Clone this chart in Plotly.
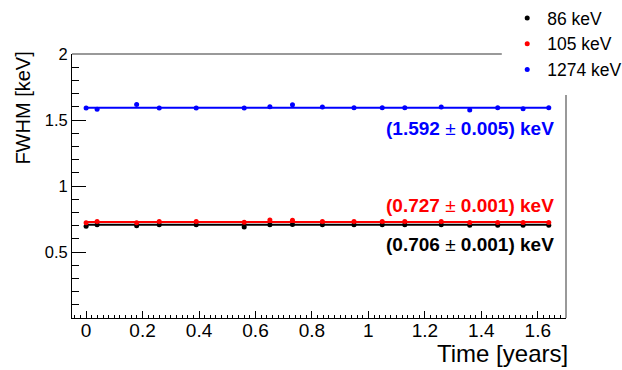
import plotly.graph_objects as go

# ---- data ----
time_years = [0.0, 0.039, 0.179, 0.259, 0.390, 0.560, 0.651, 0.731, 0.837,
              0.949, 1.049, 1.129, 1.258, 1.359, 1.458, 1.548, 1.639]
fwhm_86 = [0.696, 0.706, 0.698, 0.706, 0.706, 0.690, 0.706, 0.708, 0.706,
           0.706, 0.706, 0.706, 0.706, 0.703, 0.703, 0.703, 0.703]
fwhm_105 = [0.722, 0.732, 0.722, 0.732, 0.732, 0.725, 0.742, 0.740, 0.732,
            0.732, 0.732, 0.732, 0.732, 0.724, 0.724, 0.724, 0.724]
fwhm_1274 = [1.590, 1.582, 1.617, 1.590, 1.590, 1.590, 1.600, 1.615, 1.598,
             1.592, 1.592, 1.592, 1.598, 1.575, 1.592, 1.585, 1.592]
err_86 = [0.005] * len(time_years)
err_105 = [0.005] * len(time_years)
err_1274 = [0.008] * len(time_years)

series_names = ["86 keV", "105 keV", "1274 keV"]
series_colors = ["#000000", "#ff0000", "#0000ff"]
fit_values = [0.706, 0.727, 1.592]
fit_errors = [0.001, 0.001, 0.005]
fit_label_y = [0.56, 0.856, 1.434]

series_values = [fwhm_86, fwhm_105, fwhm_1274]
series_errors = [err_86, err_105, err_1274]

fig = go.Figure()

for name, col, vals, errs, fv in zip(series_names, series_colors, series_values,
                                      series_errors, fit_values):
    fig.add_trace(go.Scatter(
        x=[time_years[0], time_years[-1]], y=[fv, fv], mode="lines",
        line=dict(color=col, width=2), showlegend=False, hoverinfo="skip"))
    fig.add_trace(go.Scatter(
        x=time_years, y=vals, mode="markers", name=name, legendgroup=name,
        marker=dict(color=col, size=5),
        error_y=dict(type="data", array=errs, color=col, thickness=1.5, width=0)))

for col, fv, fe, ly in zip(series_colors, fit_values, fit_errors, fit_label_y):
    fig.add_annotation(
        x=1.664, y=ly, xref="x", yref="y", xanchor="right", yanchor="middle",
        text=f"<b>({fv:.3f} </b>±<b> {fe:.3f}) keV</b>", showarrow=False,
        font=dict(family="Liberation Sans, Arial", size=19, color=col))

# axis titles (ROOT style, right/top aligned)
fig.add_annotation(x=1.0, y=-0.133, xref="paper", yref="paper", xanchor="right",
                   yanchor="middle", text="Time [years]", showarrow=False, xshift=4,
                   font=dict(family="Liberation Sans, Arial", size=24, color="black"))
fig.add_annotation(x=-0.101, y=1.0, xref="paper", yref="paper", xanchor="center",
                   yanchor="top", text="FWHM [keV]", textangle=-90, showarrow=False,
                   yshift=4,
                   font=dict(family="Liberation Sans, Arial", size=20, color="black"))

# frame (top and right, grey, interrupted by legend box)
fig.add_shape(type="line", xref="paper", yref="paper", x0=0, x1=0.870, y0=1, y1=1,
              line=dict(color="#777777", width=1.5))
fig.add_shape(type="line", xref="paper", yref="paper", x0=1, x1=1, y0=0, y1=0.845,
              line=dict(color="#777777", width=1.5))

fig.update_layout(
    width=622, height=370,
    margin=dict(l=72, r=56, t=54, b=52, autoexpand=False),
    plot_bgcolor="white", paper_bgcolor="white",
    font=dict(family="Liberation Sans, Arial", color="black"),
    showlegend=True,
    legend=dict(x=0.881, y=1.2045, xanchor="left", yanchor="top",
                bgcolor="rgba(0,0,0,0)", font=dict(size=17.5),
                tracegroupgap=8, traceorder="normal"),
    xaxis=dict(range=[-0.05, 1.7], showgrid=False, zeroline=False,
               showline=True, linecolor="black", linewidth=1,
               ticks="inside", ticklen=7, tickcolor="black", dtick=0.2, tick0=0,
               tickfont=dict(size=19), ticklabelstandoff=-5,
               minor=dict(ticks="inside", ticklen=3, dtick=0.02, tick0=0,
                          tickcolor="black", showgrid=False)),
    yaxis=dict(range=[0, 2], showgrid=False, zeroline=False,
               showline=True, linecolor="black", linewidth=1,
               ticks="inside", ticklen=14, tickcolor="black",
               tickmode="array", tickvals=[0.5, 1, 1.5, 2],
               ticktext=["0.5", "1", "1.5", "2"],
               tickfont=dict(size=16.5),
               minor=dict(ticks="inside", ticklen=7, tickmode="linear",
                          dtick=0.1, tick0=0, tickcolor="black", showgrid=False)),
)

fig.write_html("out.html")
